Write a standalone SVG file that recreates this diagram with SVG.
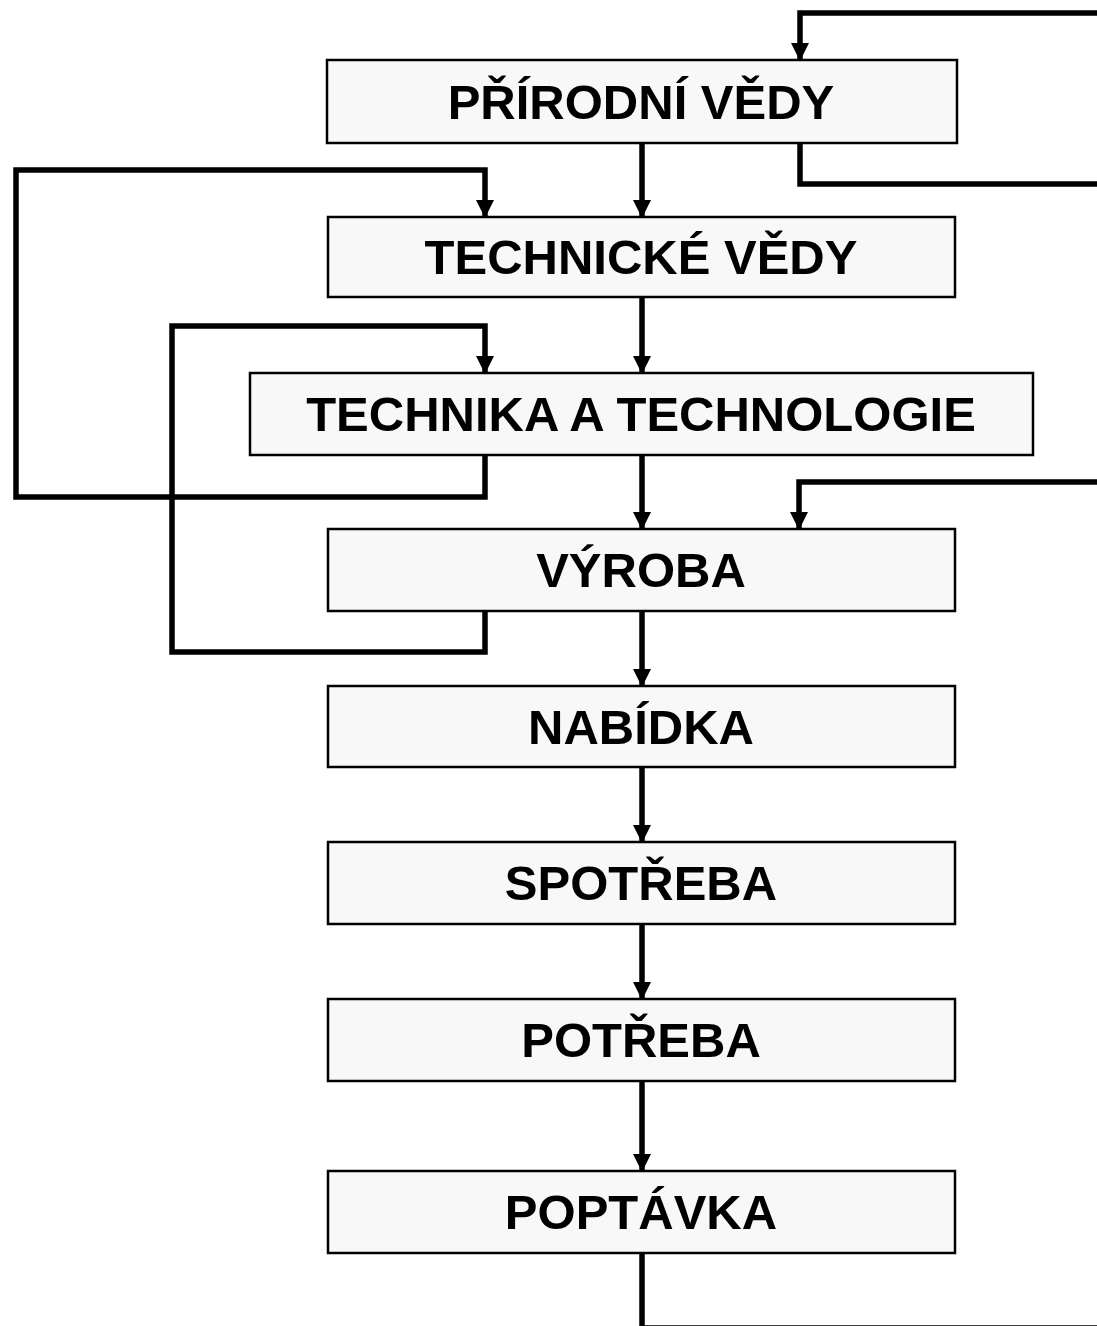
<svg xmlns="http://www.w3.org/2000/svg" width="1097" height="1326" viewBox="0 0 1097 1326">
<style>
.box rect{fill:#f8f8f8;stroke:#000;stroke-width:2.5}
.box text{font-family:"Liberation Sans",Arial,sans-serif;font-weight:bold;font-size:49px;fill:#000;text-anchor:middle}
.c path{fill:none;stroke:#000;stroke-width:5.5;stroke-linejoin:miter}
</style>
<defs>
<marker id="ah" markerUnits="userSpaceOnUse" markerWidth="18" markerHeight="18" refX="17" refY="9" orient="auto" viewBox="0 0 18 18">
<path d="M0,0 L18,9 L0,18 z" fill="#000"/>
</marker>
</defs>
<rect width="1097" height="1326" fill="#fff"/>
<g class="c" id="connectors">
<path d="M642,141 V217" marker-end="url(#ah)"/>
<path d="M642,295 V373" marker-end="url(#ah)"/>
<path d="M642,453 V529" marker-end="url(#ah)"/>
<path d="M642,609 V686" marker-end="url(#ah)"/>
<path d="M642,765 V842" marker-end="url(#ah)"/>
<path d="M642,922 V999" marker-end="url(#ah)"/>
<path d="M642,1079 V1171" marker-end="url(#ah)"/>
<path d="M642,1251 V1328 H1100"/>
<path d="M1100,13 H800 V60" marker-end="url(#ah)"/>
<path d="M800,141 V184 H1100"/>
<path d="M1100,482 H799 V529" marker-end="url(#ah)"/>
<path d="M485,453 V497 H16 V170 H485 V217" marker-end="url(#ah)"/>
<path d="M485,609 V652 H172 V326 H485 V373" marker-end="url(#ah)"/>
</g>
<g class="box" id="n1"><rect x="327" y="60" width="630" height="83"/><text x="641" y="119">PŘÍRODNÍ VĚDY</text></g>
<g class="box" id="n2"><rect x="328" y="217" width="627" height="80"/><text x="641" y="274">TECHNICKÉ VĚDY</text></g>
<g class="box" id="n3"><rect x="250" y="373" width="783" height="82"/><text x="641" y="431">TECHNIKA A TECHNOLOGIE</text></g>
<g class="box" id="n4"><rect x="328" y="529" width="627" height="82"/><text x="641" y="587">VÝROBA</text></g>
<g class="box" id="n5"><rect x="328" y="686" width="627" height="81"/><text x="641" y="744">NABÍDKA</text></g>
<g class="box" id="n6"><rect x="328" y="842" width="627" height="82"/><text x="641" y="900">SPOTŘEBA</text></g>
<g class="box" id="n7"><rect x="328" y="999" width="627" height="82"/><text x="641" y="1057">POTŘEBA</text></g>
<g class="box" id="n8"><rect x="328" y="1171" width="627" height="82"/><text x="641" y="1229">POPTÁVKA</text></g>
</svg>
